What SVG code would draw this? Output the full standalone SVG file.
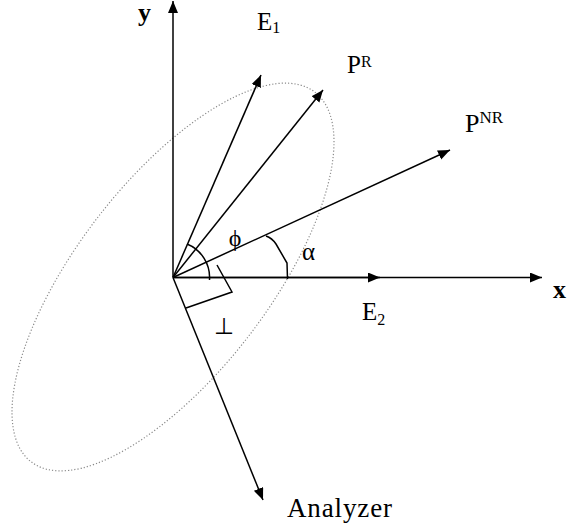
<svg xmlns="http://www.w3.org/2000/svg" width="568" height="529" viewBox="0 0 568 529">
<style>
.ln{stroke:#000;stroke-width:1.5;fill:none}
.arr{stroke:#000;stroke-width:1.5;fill:none;marker-end:url(#ah)}
.t{font-family:"Liberation Serif","Times New Roman",serif;fill:#000}
.ax{font-family:"Liberation Serif","Times New Roman",serif;font-weight:bold;font-size:26px;fill:#000}
.lab{font-size:25px}
.sub{font-size:16px}
</style>
<defs>
<marker id="ah" markerUnits="userSpaceOnUse" markerWidth="13" markerHeight="11" refX="12" refY="5" orient="auto">
<path d="M0,0 L12,5 L0,10 Z" fill="#000"/>
</marker>
</defs>
<rect width="568" height="529" fill="#fff"/>
<g id="ellipse">
<ellipse cx="173" cy="277" rx="233" ry="96" transform="rotate(-52.5 173 277)" fill="none" stroke="#8a8a8a" stroke-width="1.2" stroke-dasharray="1.2 2"/>
</g>
<g id="connectors">
<line class="arr" x1="173" y1="277.5" x2="173" y2="1"/>
<line class="arr" x1="173" y1="277.5" x2="542" y2="277.5"/>
<line class="arr" x1="173" y1="277.5" x2="380" y2="277.5"/>
<line class="arr" x1="173" y1="277.5" x2="261" y2="75"/>
<line class="arr" x1="173" y1="277.5" x2="323" y2="90"/>
<line class="arr" x1="173" y1="277.5" x2="450" y2="150"/>
<line class="arr" x1="173" y1="277.5" x2="263" y2="500"/>
<path class="ln" d="M187,244 A36,36 0 0,1 209.5,280"/>
<path class="ln" d="M266,236 Q272,238 276,244 L287,263 L287.5,279"/>
<path class="ln" d="M186,308 L232,292 L217,265"/>
</g>
<g id="y-axis"><text class="ax" x="138" y="21" font-size="25">y</text></g>
<g id="x-axis"><text class="ax" x="553" y="298">x</text></g>
<g id="E1"><text class="t lab" x="257" y="30">E<tspan class="sub" font-size="17" dy="3">1</tspan></text></g>
<g id="E2"><text class="t lab" x="362" y="320">E<tspan class="sub" dy="5">2</tspan></text></g>
<g id="PR"><text class="t lab" x="347" y="73">P<tspan class="sub" dy="-6">R</tspan></text></g>
<g id="PNR"><text class="t" font-size="26" x="465" y="132">P<tspan font-size="17" dy="-9">NR</tspan></text></g>
<g id="phi"><text class="t" font-size="24" x="235" y="246" text-anchor="middle">ϕ</text></g>
<g id="alpha"><text class="t lab" x="302" y="260">α</text></g>
<g id="perp"><text class="t" font-size="23" x="223.5" y="334" text-anchor="middle">⊥</text></g>
<g id="analyzer"><text class="t" font-size="27" x="287" y="517" textLength="105" lengthAdjust="spacing">Analyzer</text></g>
</svg>
